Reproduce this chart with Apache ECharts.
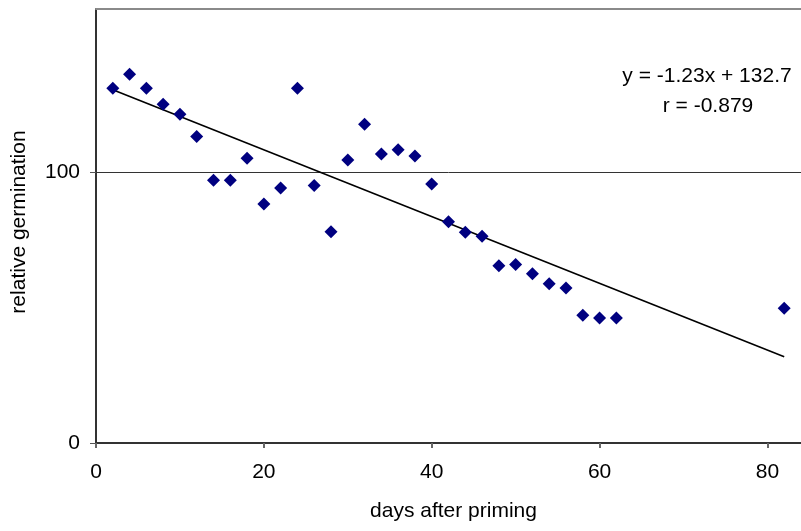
<!DOCTYPE html>
<html>
<head>
<meta charset="utf-8">
<script src="https://cdn.jsdelivr.net/npm/echarts@6/dist/echarts.min.js"></script>
<style>
html,body{margin:0;padding:0;background:#fff;}
#chart{width:801px;height:531px;}
</style>
</head>
<body>
<div id="chart"></div>
<script>
// ---- data ----
var days = [2, 4, 6, 8, 10, 12, 14, 16, 18, 20, 22, 24, 26, 28, 30, 32, 34, 36, 38, 40, 42, 44, 46, 48, 50, 52, 54, 56, 58, 60, 62, 82];
var germination = [130.8, 135.9, 130.8, 124.9, 121.2, 113.0, 96.9, 96.9, 105.0, 88.1, 94.0, 130.8, 94.9, 77.9, 104.3, 117.5, 106.5, 108.1, 105.8, 95.5, 81.6, 77.7, 76.2, 65.3, 65.8, 62.4, 58.7, 57.1, 47.1, 46.1, 46.1, 49.7];
var trendX = [2, 82];
var trendY = [130.2, 31.8];
var xTicks = [0, 20, 40, 60, 80];
var yTicks = [0, 100];
var equationText = 'y = -1.23x + 132.7';
var rText = 'r = -0.879';
var xTitle = 'days after priming';
var yTitle = 'relative germination';

var FONT = '"Liberation Sans", Arial, sans-serif';
var chart = echarts.init(document.getElementById('chart'), null, {renderer: 'canvas'});

var scatterData = days.map(function (d, i) { return [d, germination[i]]; });
var trendData = trendX.map(function (d, i) { return [d, trendY[i]]; });

chart.setOption({
  animation: false,
  backgroundColor: '#ffffff',
  textStyle: {fontFamily: FONT},
  grid: {left: 96, top: 9, right: 0, bottom: 88, show: false},
  xAxis: [{
    type: 'value', min: 0, max: 84, interval: 20,
    name: xTitle, nameLocation: 'middle', nameGap: 58,
    nameTextStyle: {color: '#000', fontSize: 21, fontFamily: FONT, padding: [0, 0, 0, 10]},
    axisLine: {show: true, onZero: false, lineStyle: {color: '#333', width: 2}},
    axisTick: {show: true, length: 5, customValues: xTicks, lineStyle: {color: '#666', width: 2}},
    axisLabel: {color: '#000', fontSize: 21, fontFamily: FONT, margin: 19, customValues: xTicks},
    splitLine: {show: false}
  }, {
    type: 'value', position: 'top', min: 0, max: 84,
    axisLine: {show: true, onZero: false, lineStyle: {color: '#8a8a8a', width: 2}},
    axisTick: {show: false}, axisLabel: {show: false}, splitLine: {show: false}
  }],
  yAxis: {
    type: 'value', min: 0, max: 160, interval: 100,
    name: yTitle, nameLocation: 'middle', nameGap: 66, nameRotate: 90,
    nameTextStyle: {color: '#000', fontSize: 21, fontFamily: FONT, padding: [0, 0, 0, 8]},
    axisLine: {show: true, onZero: false, lineStyle: {color: '#333', width: 2}},
    axisTick: {show: true, length: 6, customValues: yTicks, lineStyle: {color: '#555', width: 1}},
    axisLabel: {color: '#000', fontSize: 21, fontFamily: FONT, margin: 16, customValues: yTicks},
    splitLine: {show: true, showMinLine: false, lineStyle: {color: '#333', width: 1}}
  },
  series: [
    {
      type: 'line', data: trendData, symbol: 'none', silent: true,
      lineStyle: {color: '#000', width: 1.6}, z: 2
    },
    {
      type: 'scatter', data: scatterData, symbol: 'diamond', symbolSize: [13, 13],
      itemStyle: {color: '#000080', opacity: 1}, z: 3
    }
  ],
  graphic: [
    {
      type: 'text', x: 707, y: 76,
      style: {text: equationText, fill: '#000', font: '21px ' + FONT, textAlign: 'center', textVerticalAlign: 'middle'}
    },
    {
      type: 'text', x: 708, y: 106,
      style: {text: rText, fill: '#000', font: '21px ' + FONT, textAlign: 'center', textVerticalAlign: 'middle'}
    }
  ]
});
</script>
</body>
</html>
